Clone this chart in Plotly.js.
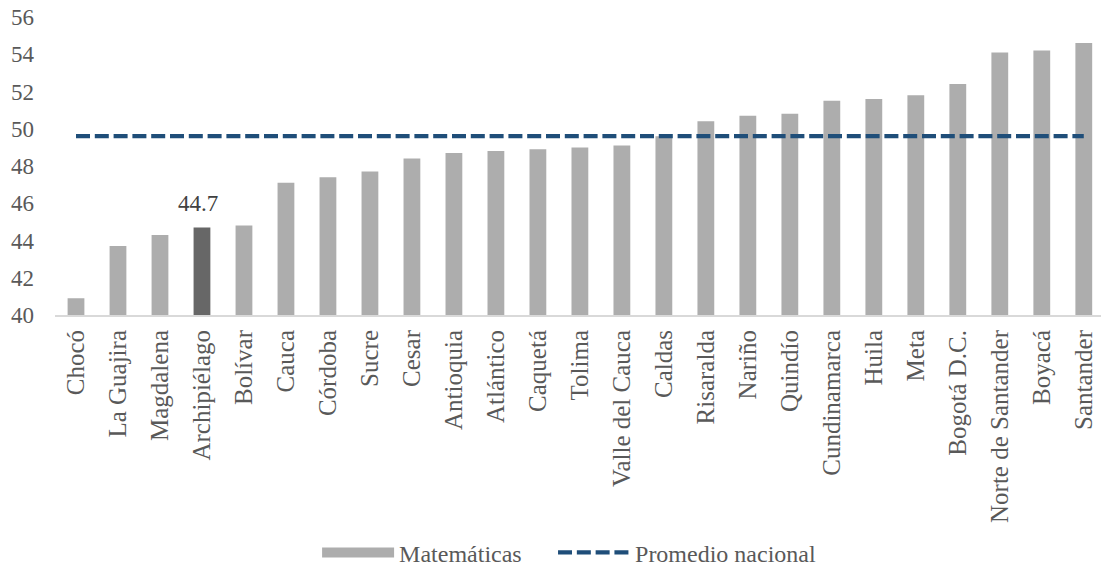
<!DOCTYPE html>
<html>
<head>
<meta charset="utf-8">
<script src="https://cdn.plot.ly/plotly-3.0.1.min.js"></script>
<style>
  html, body { margin: 0; padding: 0; background: #fff; }
  #chart { width: 1101px; height: 567px; }
</style>
</head>
<body>
<div id="chart"></div>
<script>
// Departments, sorted by score
const departments = [
  'Chocó', 'La Guajira', 'Magdalena', 'Archipiélago', 'Bolívar', 'Cauca',
  'Córdoba', 'Sucre', 'Cesar', 'Antioquia', 'Atlántico', 'Caquetá',
  'Tolima', 'Valle del Cauca', 'Caldas', 'Risaralda', 'Nariño', 'Quindío',
  'Cundinamarca', 'Huila', 'Meta', 'Bogotá D.C.', 'Norte de Santander',
  'Boyacá', 'Santander'
];

// Matemáticas score per department
const mathScores = [
  40.9, 43.7, 44.3, 44.7, 44.8, 47.1,
  47.4, 47.7, 48.4, 48.7, 48.8, 48.9,
  49.0, 49.1, 49.6, 50.4, 50.7, 50.8,
  51.5, 51.6, 51.8, 52.4, 54.1,
  54.2, 54.6
];

const nationalAvg = 49.6;
const highlight = 'Archipiélago';

const yTicks = [40, 42, 44, 46, 48, 50, 52, 54, 56];

const lightGrey = '#ADADAD';
const darkGrey = '#676767';
const navy = '#1F4E79';
const textCol = '#595959';
const fontFam = 'Liberation Serif, Times New Roman, serif';

// Bar colours: highlighted department in dark grey
let barColors = departments.map(d => d === highlight ? darkGrey : lightGrey);

let traceBars = {
  type: 'bar',
  x: departments,
  y: mathScores,
  marker: { color: barColors },
  width: 0.4,
  showlegend: false,
  legendgroup: 'mat',
  hoverinfo: 'x+y'
};

// Legend entry with a wide swatch like the original
let traceBarsLegend = {
  type: 'scatter',
  mode: 'lines',
  x: [departments[0], departments[1]],
  y: [null, null],
  name: 'Matemáticas',
  legendgroup: 'mat',
  legend: 'legend',
  line: { color: lightGrey, width: 13 },
  hoverinfo: 'skip'
};

let traceAvg = {
  type: 'scatter',
  mode: 'lines',
  x: departments,
  y: departments.map(() => nationalAvg),
  name: 'Promedio nacional',
  legend: 'legend2',
  line: { color: navy, width: 4.2, dash: '14px,4.8px' },
  hoverinfo: 'y'
};

let hiIdx = departments.indexOf(highlight);

// shared legend look
function legendBox(x) {
  return {
    orientation: 'h',
    xref: 'container',
    yref: 'container',
    x: x,
    xanchor: 'left',
    y: 0.025,
    yanchor: 'middle',
    itemwidth: 72,
    font: { family: fontFam, size: 24, color: textCol },
    bgcolor: 'rgba(0,0,0,0)'
  };
}

let layout = {
  width: 1101,
  height: 567,
  margin: { l: 54.7, r: 0, t: 16.6, b: 252 },
  paper_bgcolor: '#fff',
  plot_bgcolor: '#fff',
  font: { family: fontFam, size: 23, color: textCol },
  xaxis: {
    type: 'category',
    range: [-0.5, 24.41],
    showgrid: false,
    showline: true,
    linecolor: '#D9D9D9',
    linewidth: 2,
    ticks: '',
    tickangle: -90,
    ticklabelstandoff: 3,
    tickfont: { family: fontFam, size: 25, color: textCol },
    zeroline: false
  },
  yaxis: {
    range: [40, 56],
    tickvals: yTicks,
    showgrid: false,
    showline: false,
    zeroline: false,
    ticks: '',
    ticklabelstandoff: 20,
    tickfont: { family: fontFam, size: 23, color: textCol }
  },
  annotations: [{
    x: departments[hiIdx],
    y: mathScores[hiIdx],
    text: mathScores[hiIdx].toFixed(1),
    showarrow: false,
    yanchor: 'bottom',
    yshift: 9,
    xshift: -4,
    font: { family: fontFam, size: 23, color: '#404040' }
  }],
  legend: legendBox(0.288),
  legend2: legendBox(0.5023),
  bargap: 0.6
};

Plotly.newPlot('chart', [traceBars, traceBarsLegend, traceAvg], layout, { displayModeBar: false, staticPlot: true });
</script>
</body>
</html>
